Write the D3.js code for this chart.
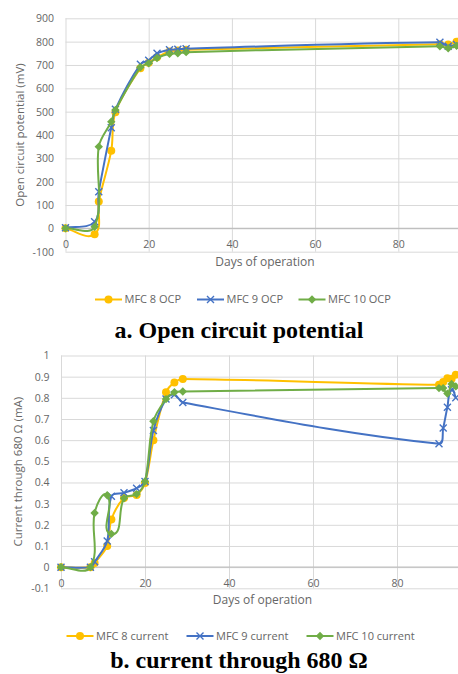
<!DOCTYPE html>
<html><head><meta charset="utf-8">
<script src="https://cdn.jsdelivr.net/npm/d3@7"></script>
<style>
body{margin:0;background:#fff}
svg{display:block}
text{font-family:"Open Sans",sans-serif}
</style>
</head><body>
<svg id="c" width="458" height="674"></svg>
<script>
// ---------- DATA ----------
// Panel a: open circuit potential (mV)
const daysA = [0, 7, 8, 11, 12, 18, 20, 22, 25, 27, 29, 90, 92, 94];
const ocpMFC8  = [0, -25, 115, 333, 498, 686, 710, 733, 758, 762, 765, 789, 788, 800];
const ocpMFC9  = [3, 28, 157, 431, 510, 703, 720, 750, 765, 767, 770, 797, 780, 788];
const ocpMFC10 = [0, 7, 350, 457, 507, 690, 707, 730, 748, 750, 755, 780, 772, 782];
const yTicksA = [-100, 0, 100, 200, 300, 400, 500, 600, 700, 800, 900];
const yLabelsA = ["-100", "0", "100", "200", "300", "400", "500", "600", "700", "800", "900"];

// Panel b: current through 680 ohm (mA)
const daysB = [0, 7, 8, 11, 12, 15, 18, 20, 22, 25, 27, 29, 90, 91, 92, 93, 94];
const curMFC8  = [0, 0, 0.02, 0.10, 0.225, 0.327, 0.341, 0.398, 0.599, 0.826, 0.873, 0.889, 0.862, 0.875, 0.893, 0.89, 0.909];
const curMFC9  = [0, 0, 0.025, 0.123, 0.335, 0.351, 0.373, 0.405, 0.646, 0.795, 0.815, 0.778, 0.583, 0.657, 0.756, 0.838, 0.80];
const curMFC10 = [0, 0, 0.256, 0.34, 0.157, 0.325, 0.345, 0.405, 0.689, 0.794, 0.826, 0.83, 0.846, 0.846, 0.82, 0.865, 0.854];
const yTicksB = [-0.1, 0, 0.1, 0.2, 0.3, 0.4, 0.5, 0.6, 0.7, 0.8, 0.9, 1];
const yLabelsB = ["-0.1", "0", "0.1", "0.2", "0.3", "0.4", "0.5", "0.6", "0.7", "0.8", "0.9", "1"];

const xTicks = [0, 20, 40, 60, 80];
const xGrid = [0, 20, 40, 60, 80, 100];
const xLabels = ["0", "20", "40", "60", "80"];

const namesA = ["MFC 8 OCP", "MFC 9 OCP", "MFC 10 OCP"];
const namesB = ["MFC 8 current", "MFC 9 current", "MFC 10 current"];

// ---------- STYLE ----------
const colors = ["#FFC000", "#4472C4", "#70AD47"];
const markers = ["circle", "cross", "diamond"];
const textCol = "#666666";
const gridCol = "#d9d9d9";

const svg = d3.select("#c");

// Spreadsheet-style smoothed line: tangent direction from neighbours,
// handle length = one third of the segment's own length.
function SmoothCurve(context) { this._context = context; }
SmoothCurve.prototype = {
  areaStart() {}, areaEnd() {},
  lineStart() { this._pts = []; },
  point(x, y) { this._pts.push([+x, +y]); },
  lineEnd() {
    const p = this._pts, c = this._context, n = p.length;
    if (!n) return;
    c.moveTo(p[0][0], p[0][1]);
    if (n === 1) return;
    const dirs = p.map((q, i) => {
      const a = p[Math.max(0, i - 1)], b = p[Math.min(n - 1, i + 1)];
      const dx = b[0] - a[0], dy = b[1] - a[1];
      const l = Math.hypot(dx, dy) || 1;
      return [dx / l, dy / l];
    });
    for (let i = 0; i < n - 1; i++) {
      const a = p[i], b = p[i + 1];
      const L = Math.hypot(b[0] - a[0], b[1] - a[1]) / 3;
      c.bezierCurveTo(a[0] + dirs[i][0] * L, a[1] + dirs[i][1] * L,
                      b[0] - dirs[i + 1][0] * L, b[1] - dirs[i + 1][1] * L,
                      b[0], b[1]);
    }
  }
};
const smoothCurve = ctx => new SmoothCurve(ctx);

function drawMarker(g, type, cx, cy, color) {
  if (type === "circle") {
    g.append("circle").attr("cx", cx).attr("cy", cy).attr("r", 4).attr("fill", color);
  } else if (type === "cross") {
    const s = 3.5;
    g.append("path").attr("d", `M${cx - s},${cy - s}L${cx + s},${cy + s}M${cx - s},${cy + s}L${cx + s},${cy - s}`)
      .attr("stroke", color).attr("stroke-width", 1.4).attr("fill", "none");
  } else {
    const s = 4.2;
    g.append("path").attr("d", `M${cx},${cy - s}L${cx + s},${cy}L${cx},${cy + s}L${cx - s},${cy}Z`).attr("fill", color);
  }
}

function panel(o) {
  const g = svg.append("g");
  const x = d3.scaleLinear().domain([0, 100]).range(o.xRange);
  const y = d3.scaleLinear().domain(o.yDomain).range(o.yRange);
  const top = o.yRange[1], bottom = o.yRange[0];

  // vertical grid
  const vg = g.append("g").attr("transform", `translate(0,${top})`)
    .call(d3.axisBottom(x).tickValues(xGrid).tickSize(bottom - top).tickFormat(""));
  vg.select(".domain").remove();
  vg.selectAll("line").attr("stroke", gridCol).attr("stroke-width", 1);

  // horizontal grid
  const hg = g.append("g").attr("transform", `translate(${o.xRange[0]},0)`)
    .call(d3.axisRight(y).tickValues(o.yTicks).tickSize(o.xRange[1] - o.xRange[0]).tickFormat(""));
  hg.select(".domain").remove();
  hg.selectAll("line").attr("stroke", gridCol).attr("stroke-width", 1);

  // zero axis line
  g.append("line").attr("x1", x(0)).attr("x2", 470).attr("y1", y(0)).attr("y2", y(0))
    .attr("stroke", "#bfbfbf").attr("stroke-width", 1.2);

  // y labels
  const ya = g.append("g").attr("transform", `translate(${o.yLabelRight},0)`)
    .call(d3.axisLeft(y).tickValues(o.yTicks).tickSize(0).tickPadding(0)
      .tickFormat((d, i) => o.yLabels[i]));
  ya.select(".domain").remove();
  ya.selectAll("text").attr("fill", textCol).style("font-size", "10.5px").style("font-family", '"Open Sans",sans-serif');

  // x labels
  const xa = g.append("g").attr("transform", `translate(0,${o.xLabelY})`)
    .call(d3.axisBottom(x).tickValues(xTicks).tickSize(0).tickPadding(0)
      .tickFormat((d, i) => xLabels[i]));
  xa.select(".domain").remove();
  xa.selectAll("text").attr("y", 0).attr("dy", "0.35em").attr("fill", textCol)
    .style("font-size", "10.5px").style("font-family", '"Open Sans",sans-serif');

  // axis titles
  g.append("text").attr("x", o.xTitle[0]).attr("y", o.xTitle[1]).attr("dy", "0.35em")
    .attr("text-anchor", "middle").attr("fill", textCol).style("font-size", "12px").text("Days of operation");
  g.append("text").attr("transform", `translate(${o.yTitle[0]},${o.yTitle[1]}) rotate(-90)`)
    .attr("dy", "0.35em").attr("text-anchor", "middle").attr("fill", textCol)
    .style("font-size", o.yTitleSize).text(o.yTitleText);

  // series
  const line = d3.line().x(d => x(d[0])).y(d => y(d[1])).curve(smoothCurve);
  o.series.forEach((vals, k) => {
    const pts = o.days.map((d, i) => [d, vals[i]]);
    const sg = g.append("g");
    sg.append("path").attr("d", line(pts)).attr("fill", "none")
      .attr("stroke", colors[k]).attr("stroke-width", 2).attr("stroke-linejoin", "round");
    pts.forEach(p => drawMarker(sg, markers[k], x(p[0]), y(p[1]), colors[k]));
  });

  // legend
  o.legend.forEach((L, k) => {
    const lg = g.append("g");
    lg.append("line").attr("x1", L[0]).attr("x2", L[0] + 27).attr("y1", o.legendY).attr("y2", o.legendY)
      .attr("stroke", colors[k]).attr("stroke-width", 2);
    drawMarker(lg, markers[k], L[0] + 13.5, o.legendY, colors[k]);
    lg.append("text").attr("x", L[0] + 29.5).attr("y", o.legendY).attr("dy", "0.35em")
      .attr("fill", textCol).style("font-size", "11px").text(o.names[k]);
  });

  // caption
  g.append("text").attr("x", o.caption[0]).attr("y", o.caption[1]).attr("text-anchor", "middle")
    .style("font-family", '"Liberation Serif","Times New Roman",serif').style("font-weight", "bold")
    .style("font-size", "24px").attr("fill", "#000").text(o.captionText);
}

panel({
  xRange: [65.5, 481.5], yDomain: [-100, 900], yRange: [251.7, 18.3],
  yTicks: yTicksA, yLabels: yLabelsA, yLabelRight: 54, xLabelY: 244,
  xTitle: [265, 262], yTitle: [20, 135], yTitleText: "Open circuit potential (mV)", yTitleSize: "11.5px",
  days: daysA, series: [ocpMFC8, ocpMFC9, ocpMFC10],
  legend: [[95], [197], [298.5]], legendY: 299.5, names: namesA,
  caption: [239, 338], captionText: "a. Open circuit potential"
});

panel({
  xRange: [61, 481], yDomain: [-0.1, 1], yRange: [588.3, 355.5],
  yTicks: yTicksB, yLabels: yLabelsB, yLabelRight: 49.5, xLabelY: 583,
  xTitle: [262.5, 600], yTitle: [18, 471.7], yTitleText: "Current through 680 Ω (mA)", yTitleSize: "11.5px",
  days: daysB, series: [curMFC8, curMFC9, curMFC10],
  legend: [[66.5], [186.5], [306.5]], legendY: 636, names: namesB,
  caption: [239, 668], captionText: "b. current through 680 Ω"
});
</script>
</body></html>
